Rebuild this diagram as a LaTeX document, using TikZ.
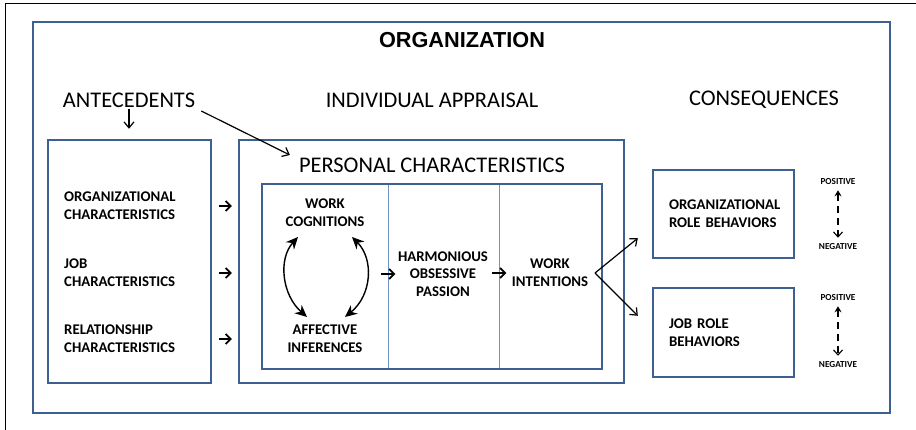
\documentclass[tikz,border=0pt]{standalone}
\usepackage{fontspec}
\setmainfont{Carlito}
\newfontfamily\titlefont{Liberation Sans}
\usetikzlibrary{positioning, calc, arrows.meta}

\definecolor{boxblue}{RGB}{62,96,144}
\definecolor{lineblue}{RGB}{112,146,196}

\begin{document}
\begin{tikzpicture}[x=1pt, y=-1pt,
        frame/.style={draw=boxblue, line width=2.4pt, inner sep=0pt},
        column/.style={draw=lineblue, line width=0.8pt, inner sep=0pt, minimum height=185pt},
        head/.style={font=\fontsize{22.4}{26}\selectfont, inner sep=1pt},
        lbl/.style={font=\fontsize{14.8}{17.8}\selectfont\bfseries, align=left, inner sep=1pt},
        clbl/.style={lbl, align=center},
        tiny/.style={font=\fontsize{9.2}{10}\selectfont\bfseries, inner sep=1pt},
        barb/.style={-{Straight Barb[length=6pt, width=10pt]}, line width=1.2pt},
        fatbarb/.style={-{Straight Barb[length=5pt, width=10pt]}, line width=1.8pt},
        twoway/.style={{Stealth[length=12pt, width=11pt]}-{Stealth[length=12pt, width=11pt]}, line width=1.4pt},
        valence/.style={{Stealth[length=6pt, width=7pt]}-{Straight Barb[length=5pt, width=9pt]}, line width=1.1pt, dash pattern=on 7pt off 5pt}]
        \useasboundingbox (0,0) rectangle (916,430);
        \draw[black, line width=1pt] (5,430) -- (5,4) -- (916,4);

        % Boxes
        \node[frame, minimum width=857pt, minimum height=391pt] (org) at (461.5,217.5) {};
        \node[frame, minimum width=163pt, minimum height=243pt] (ante) at (129.5,261.5) {};
        \node[frame, minimum width=385pt, minimum height=243pt] (pers) at (431.5,261.5) {};
        \node[column, minimum width=126pt] (colA) at (325,276.5) {};
        \node[column, minimum width=111pt] (colB) at (443.5,276.5) {};
        \node[column, minimum width=103pt] (colC) at (550.5,276.5) {};
        \node[frame, minimum width=340pt, minimum height=185pt] (inner) at (432,276.5) {};

        % Headings
        \node[font=\titlefont\bfseries\fontsize{21.7}{25}\selectfont] (title) at (462,40) {ORGANIZATION};
        \node[head] (ant) at (129,100) {ANTECEDENTS};
        \node[head] (app) at (432,100) {INDIVIDUAL APPRAISAL};
        \node[head] (con) at (764,100) {CONSEQUENCES};
        \node[head] (pc) at (432,165) {PERSONAL CHARACTERISTICS};

        % Antecedents
        \node[lbl, anchor=west] (oc) at (63,206) {ORGANIZATIONAL\\CHARACTERISTICS};
        \node[lbl, anchor=west] (jc) at (63,273) {JOB\\CHARACTERISTICS};
        \node[lbl, anchor=west] (rc) at (63,339) {RELATIONSHIP\\CHARACTERISTICS};

        % Appraisal
        \node[clbl] (cog) at (325,213) {WORK\\COGNITIONS};
        \node[clbl] (aff) at (325,339) {AFFECTIVE\\INFERENCES};
        \node[clbl] (hop) at (443,274) {HARMONIOUS\\OBSESSIVE\\PASSION};
        \node[clbl] (wi) at (550,273) {WORK\\INTENTIONS};

        % Consequences
        \node[frame, lbl, minimum width=141pt, minimum height=88pt, inner xsep=16pt, text width=109pt] (orb) at (723.5,214) {ORGANIZATIONAL\\ROLE BEHAVIORS};
        \node[frame, lbl, minimum width=141pt, minimum height=89pt, inner xsep=16pt, text width=109pt] (jrb) at (723.5,332.5) {JOB ROLE\\BEHAVIORS};
        \node[tiny] (pos1) at (838,182) {POSITIVE};
        \node[tiny] (neg1) at (838,247) {NEGATIVE};
        \node[tiny] (pos2) at (838,298) {POSITIVE};
        \node[tiny] (neg2) at (838,365) {NEGATIVE};

        % Edges
        \draw[barb, shorten >=10pt] (ant.south) -- (ant.south |- ante.north);
        \draw[barb] ($(ant.east)+(5,11)$) -- ($(pc.west)+(-8,-10)$);
        \foreach \src in {oc, jc, rc} {
                \draw[fatbarb] ($(ante.east |- \src)+(7,0)$) -- ($(pers.west |- \src)+(-6,0)$);
        }
        \draw[twoway] ($(cog.center)+(-27,24)$) .. controls +(-20,22) and +(-25,-22) .. ($(aff.center)+(-18,-22)$);
        \draw[twoway] ($(cog.center)+(27,24)$) .. controls +(22,22) and +(27,-22) .. ($(aff.center)+(20,-22)$);
        \draw[fatbarb] ($(colA.east |- hop)+(-7,0)$) -- ($(colA.east |- hop)+(7,0)$);
        \draw[fatbarb] ($(colB.east |- wi)+(-7,0)$) -- ($(colB.east |- wi)+(7,0)$);
        \coordinate (fork) at ($(wi.center)+(45,0)$);
        \draw[barb] (fork) -- ($(orb.south west)+(-14,-21)$);
        \draw[barb] (fork) -- ($(jrb.north west)+(-14,29)$);
        \draw[valence, shorten <=4pt, shorten >=5pt] (pos1) -- (neg1);
        \draw[valence, shorten <=4pt, shorten >=5pt] (pos2) -- (neg2);
\end{tikzpicture}
\end{document}
